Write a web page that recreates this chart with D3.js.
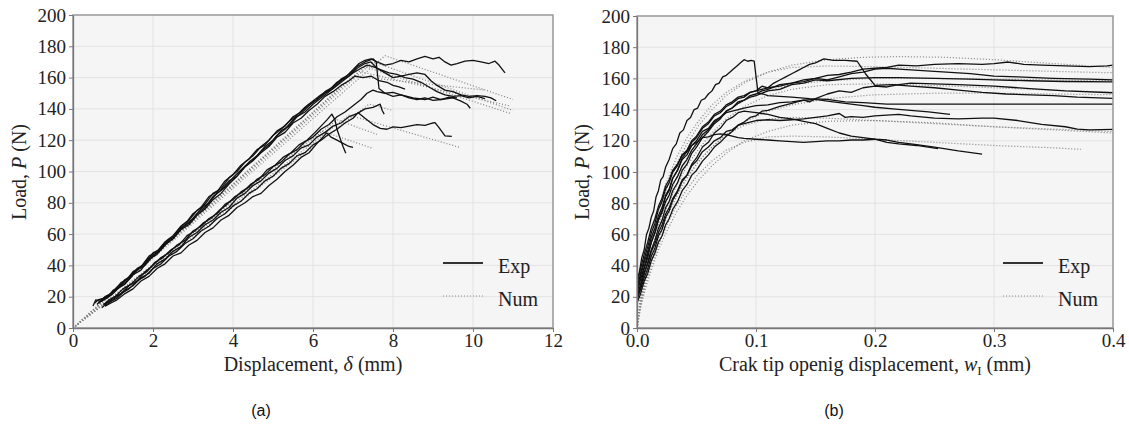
<!DOCTYPE html>
<html><head><meta charset="utf-8">
<script src="https://cdn.jsdelivr.net/npm/d3@7/dist/d3.min.js"></script>
<style>
body{margin:0;background:#fff;}
svg{display:block;}
.tick text{font-family:"Liberation Serif",serif;font-size:19px;fill:#222;}
</style></head>
<body><svg id="chart" width="1129" height="427"></svg>
<script>
// ---------- tick values ----------
const yTicks = [0,20,40,60,80,100,120,140,160,180,200];
const xTicksA = [0,2,4,6,8,10,12];
const xTicksB = [0,0.1,0.2,0.3,0.4];
const legendLabels = ["Exp","Num"];

// ---------- panel (a): experimental load-displacement ----------
const expA1 = [[0.55,16],[0.62,18],[0.75,19],[0.9,21],[1.0,24],[1.15,26],[1.3,31],[1.45,33],[1.6,38],[1.8,41],[2.0,48],[2.15,50],[2.35,56],[2.5,59],[2.7,65],[2.85,68],[3.0,73],[3.2,77],[3.4,84],[3.6,87],[3.8,94],[4.0,98],[4.2,104],[4.4,108],[4.6,114],[4.8,117],[5.0,123],[5.2,127],[5.4,132],[5.6,136],[5.8,141],[6.0,145],[6.2,149],[6.4,152],[6.6,157],[6.8,160],[7.0,165],[7.15,169],[7.3,171],[7.45,172],[7.6,170],[7.8,168],[8.0,169],[8.2,171],[8.4,170],[8.6,172],[8.8,173.5],[9.0,172],[9.15,173],[9.3,170],[9.45,168],[9.6,169],[9.8,170.5],[10.0,171],[10.2,170],[10.4,169],[10.55,170.5],[10.65,168],[10.8,163]];
const expA2 = [[0.6,15],[0.7,18],[0.85,20],[1.0,23],[1.2,29],[1.35,31],[1.5,36],[1.7,39],[1.9,46],[2.1,49],[2.3,55],[2.5,58],[2.7,65],[2.9,69],[3.1,75],[3.3,79],[3.5,86],[3.7,89],[3.9,96],[4.1,100],[4.3,106],[4.5,110],[4.7,116],[4.9,120],[5.1,126],[5.3,129],[5.5,135],[5.7,138],[5.9,143],[6.1,146],[6.3,151],[6.5,154],[6.7,159],[6.9,162],[7.1,167],[7.3,170],[7.5,172],[7.58,170],[7.65,153],[7.8,150],[8.0,148],[8.2,149],[8.5,147],[8.8,146],[9.0,147.5],[9.2,146],[9.5,147],[9.7,145],[9.85,143],[9.93,140.4]];
const expA3 = [[0.65,16],[0.8,19],[0.95,21],[1.1,25],[1.3,28],[1.5,34],[1.7,37],[1.9,44],[2.1,47],[2.3,53],[2.5,57],[2.7,63],[2.9,66],[3.1,72],[3.3,76],[3.5,82],[3.7,86],[3.9,92],[4.1,97],[4.3,103],[4.5,107],[4.7,113],[4.9,117],[5.1,123],[5.3,127],[5.5,133],[5.7,137],[5.9,142],[6.1,146],[6.3,150],[6.5,153],[6.7,158],[6.9,161],[7.1,166],[7.3,169],[7.45,170],[7.6,166],[7.8,163],[8.0,160],[8.2,161],[8.4,162],[8.6,163],[8.8,162],[8.95,158],[9.1,155],[9.3,152],[9.5,151],[9.7,149],[9.9,148],[10.1,148.5],[10.3,148],[10.45,147],[10.58,145.2]];
const expA4 = [[0.5,14],[0.57,18],[0.68,17],[0.8,20],[0.95,22],[1.1,26],[1.3,30],[1.5,35],[1.7,39],[1.9,45],[2.1,48],[2.3,54],[2.5,57],[2.7,64],[2.9,67],[3.1,73],[3.3,77],[3.5,84],[3.7,88],[3.9,94],[4.1,97],[4.3,103],[4.5,107],[4.7,112],[4.9,116],[5.1,122],[5.3,125],[5.5,131],[5.7,134],[5.9,139],[6.1,143],[6.3,148],[6.5,151],[6.7,155],[6.9,158],[7.05,161],[7.25,160],[7.45,161],[7.65,158],[7.85,157],[8.0,155],[8.15,154],[8.3,152.7]];
const expA5 = [[0.7,17],[0.85,19],[1.0,22],[1.2,27],[1.4,31],[1.6,37],[1.8,40],[2.0,46],[2.2,50],[2.4,56],[2.6,60],[2.8,66],[3.0,70],[3.2,76],[3.4,80],[3.6,86],[3.8,90],[4.0,96],[4.2,101],[4.4,106],[4.6,110],[4.8,116],[5.0,120],[5.2,126],[5.4,129],[5.6,135],[5.8,138],[6.0,143],[6.2,147],[6.4,151],[6.6,155],[6.8,159],[7.0,163],[7.2,166],[7.35,168],[7.5,167],[7.7,165],[7.9,163],[8.1,162],[8.3,160],[8.5,159],[8.7,157],[8.9,154],[9.1,151],[9.3,149],[9.5,148],[9.7,148.5],[9.9,147],[10.1,148],[10.3,146.5]];
const expA6 = [[0.75,15],[0.9,17],[1.05,20],[1.2,22],[1.4,27],[1.6,30],[1.8,36],[2.0,40],[2.2,45],[2.4,48],[2.6,53],[2.8,56],[3.0,62],[3.2,65],[3.4,70],[3.6,73],[3.8,79],[4.0,82],[4.2,87],[4.4,90],[4.6,95],[4.8,98],[5.0,103],[5.2,106],[5.4,111],[5.6,114],[5.8,119],[6.0,122],[6.2,127],[6.4,130],[6.6,135],[6.8,138],[7.0,142],[7.2,146],[7.35,150],[7.5,152],[7.6,151],[7.8,150],[8.0,150.5],[8.2,149],[8.4,147],[8.6,146],[8.8,147],[9.0,145.5],[9.2,146],[9.4,147.5],[9.6,147]];
const expA7 = [[0.8,14],[0.95,17],[1.1,19],[1.3,24],[1.5,27],[1.7,32],[1.9,35],[2.1,41],[2.3,44],[2.5,49],[2.7,52],[2.9,58],[3.1,61],[3.3,66],[3.5,69],[3.7,74],[3.9,77],[4.1,83],[4.3,86],[4.5,91],[4.7,94],[4.9,99],[5.1,102],[5.3,107],[5.5,110],[5.7,115],[5.9,117],[6.1,122],[6.3,125],[6.5,129],[6.7,131],[6.9,135],[7.1,137],[7.3,140],[7.5,141],[7.68,143],[7.73,139],[7.78,136.7]];
const expA8 = [[0.72,13],[0.85,16],[1.0,18],[1.2,22],[1.4,25],[1.6,30],[1.8,33],[2.0,38],[2.2,41],[2.4,46],[2.6,49],[2.8,54],[3.0,57],[3.2,62],[3.4,65],[3.6,70],[3.8,73],[4.0,78],[4.2,81],[4.4,86],[4.6,89],[4.8,94],[5.0,97],[5.2,102],[5.4,105],[5.6,110],[5.8,112],[6.0,117],[6.2,120],[6.4,124],[6.6,127],[6.8,131],[7.0,134],[7.13,137.6],[7.3,134],[7.5,130],[7.68,127.6],[7.85,127],[8.0,128.5],[8.2,128],[8.4,129],[8.6,130],[8.8,129.5],[9.0,131],[9.05,131.2],[9.15,128],[9.3,122.8],[9.47,122.4]];
const expA9 = [[0.78,15],[0.9,18],[1.05,20],[1.25,25],[1.45,28],[1.65,33],[1.85,36],[2.05,42],[2.25,45],[2.45,50],[2.65,53],[2.85,59],[3.05,62],[3.25,67],[3.45,70],[3.65,75],[3.85,79],[4.05,84],[4.25,87],[4.45,92],[4.65,95],[4.85,101],[5.05,104],[5.25,109],[5.45,112],[5.65,117],[5.85,120],[6.05,125],[6.2,129],[6.35,133],[6.47,136.7],[6.55,133],[6.6,127],[6.68,121],[6.75,116],[6.82,111.6]];
const expA10 = [[0.8,14],[0.95,16],[1.1,18],[1.3,22],[1.5,25],[1.7,30],[1.9,33],[2.1,38],[2.3,41],[2.5,46],[2.7,48],[2.9,53],[3.1,56],[3.3,61],[3.5,64],[3.7,69],[3.9,72],[4.1,77],[4.3,80],[4.5,84],[4.7,86],[4.9,91],[5.1,95],[5.3,100],[5.5,104],[5.7,109],[5.9,112],[6.1,118],[6.25,122],[6.34,124.7],[6.45,122],[6.6,120],[6.75,118],[6.9,116],[7.0,115.4]];

// ---------- panel (a): numerical ----------
const numA1 = [[0,0],[7.8,174],[11.0,146]];
const numA2 = [[0,0],[7.5,170],[11.0,139]];
const numA3 = [[0,0],[7.3,167],[10.95,137]];
const numA4 = [[0,0],[7.15,164],[10.9,142]];
const numA5 = [[0,0],[7.0,161],[10.3,152]];
const numA6 = [[0,0],[7.4,143],[8.0,139]];
const numA7 = [[0,0],[6.9,136],[9.67,115.4]];
const numA8 = [[0,0],[6.2,126],[7.47,115]];
const numA9 = [[0,0],[6.6,133],[7.6,123.7]];

// ---------- panel (b): experimental load-CTOD ----------
const expB1 = [[0,30],[0.002,36],[0.004,45],[0.006,50],[0.008,60],[0.01,64],[0.012,71],[0.014,75],[0.016,84],[0.018,88],[0.02,95],[0.022,97],[0.024,103],[0.027,108],[0.03,115],[0.033,118],[0.036,125],[0.039,127],[0.042,133],[0.045,135],[0.048,140],[0.051,141],[0.054,146],[0.057,147],[0.06,150],[0.063,152],[0.066,156],[0.069,157],[0.072,161],[0.075,162],[0.078,164],[0.081,166],[0.084,168],[0.087,170],[0.09,172],[0.093,171],[0.096,171.5],[0.0985,171],[0.1017,150.6],[0.106,150],[0.11,149],[0.12,148.5],[0.13,148],[0.145,147],[0.16,146.5],[0.175,145],[0.19,144.5],[0.21,143.5],[0.25,143.5],[0.3,143.5],[0.35,143.5],[0.4,143.5]];
const expB2 = [[0,20],[0.003,28],[0.006,38],[0.009,45],[0.012,55],[0.015,61],[0.018,70],[0.021,75],[0.024,84],[0.027,88],[0.03,96],[0.034,101],[0.038,109],[0.042,113],[0.046,119],[0.05,122],[0.055,128],[0.06,131],[0.065,136],[0.07,138],[0.075,142],[0.08,144],[0.085,147],[0.09,148],[0.095,151],[0.1,152],[0.105,155],[0.11,154],[0.115,157],[0.12,159],[0.125,161],[0.13,163],[0.135,165],[0.14,167],[0.145,169],[0.15,170],[0.157,172.5],[0.165,171.5],[0.175,171.5],[0.185,171],[0.192,163],[0.2,155.5],[0.215,156],[0.23,155],[0.25,154],[0.27,152.5],[0.29,151],[0.31,150],[0.33,149.5],[0.35,149],[0.37,148],[0.4,147.2]];
const expB3 = [[0,18],[0.003,26],[0.006,35],[0.009,42],[0.012,50],[0.015,56],[0.018,64],[0.021,69],[0.024,77],[0.027,81],[0.03,88],[0.034,93],[0.038,101],[0.042,105],[0.046,112],[0.05,116],[0.055,122],[0.06,126],[0.065,131],[0.07,134],[0.075,139],[0.08,141],[0.085,145],[0.09,146],[0.095,149],[0.1,150],[0.105,152],[0.11,153],[0.12,156],[0.13,157],[0.14,159],[0.15,160],[0.16,162],[0.17,162.5],[0.18,164],[0.19,166],[0.2,166.5],[0.21,167],[0.22,168.5],[0.235,168],[0.25,169],[0.27,169.5],[0.29,169],[0.3,169.5],[0.312,170.5],[0.325,169],[0.34,168.5],[0.36,168],[0.38,167.5],[0.395,168],[0.4,168.5]];
const expB4 = [[0,25],[0.003,35],[0.006,44],[0.009,52],[0.012,61],[0.015,67],[0.018,76],[0.021,81],[0.024,89],[0.027,93],[0.03,100],[0.034,104],[0.038,111],[0.042,114],[0.046,120],[0.05,123],[0.055,129],[0.06,132],[0.065,137],[0.07,139],[0.075,143],[0.08,145],[0.085,148],[0.09,149],[0.095,151],[0.1,152],[0.11,154],[0.12,155],[0.13,157],[0.14,158],[0.15,160],[0.16,159],[0.17,161],[0.18,163],[0.19,164],[0.2,166],[0.21,166.5],[0.22,166],[0.24,165],[0.26,164],[0.28,163],[0.3,161.5],[0.32,161],[0.35,160],[0.38,159.5],[0.4,159]];
const expB5 = [[0,22],[0.003,31],[0.006,39],[0.009,47],[0.012,55],[0.015,61],[0.018,69],[0.021,74],[0.024,81],[0.027,85],[0.03,92],[0.034,97],[0.038,104],[0.042,108],[0.046,114],[0.05,118],[0.055,124],[0.06,127],[0.065,132],[0.07,135],[0.075,139],[0.08,141],[0.085,144],[0.09,146],[0.095,148],[0.1,149],[0.11,152],[0.12,153],[0.13,156],[0.14,157],[0.15,159],[0.16,158.5],[0.18,160],[0.2,160.5],[0.22,160.5],[0.25,160],[0.28,159.5],[0.3,159],[0.33,158.5],[0.36,158],[0.4,157.8]];
const expB6 = [[0,16],[0.003,22],[0.006,30],[0.009,35],[0.012,43],[0.015,48],[0.018,55],[0.021,59],[0.024,66],[0.027,70],[0.03,76],[0.034,81],[0.038,88],[0.042,92],[0.046,98],[0.05,101],[0.055,107],[0.06,111],[0.065,116],[0.07,119],[0.075,123],[0.08,126],[0.085,130],[0.09,132],[0.095,135],[0.1,136],[0.105,139],[0.11,139.5],[0.12,142],[0.13,144],[0.14,146],[0.145,145],[0.15,147],[0.16,150],[0.17,152],[0.18,151],[0.19,154],[0.2,155],[0.21,154.5],[0.22,156],[0.23,157],[0.25,156.5],[0.27,156],[0.3,155],[0.33,153.5],[0.36,152],[0.4,150.8]];
const expB7 = [[0,20],[0.003,27],[0.006,35],[0.009,41],[0.012,49],[0.015,54],[0.018,61],[0.021,66],[0.024,73],[0.027,77],[0.03,83],[0.034,88],[0.038,95],[0.042,98],[0.046,104],[0.05,107],[0.055,113],[0.06,116],[0.065,120],[0.07,122],[0.075,126],[0.08,127],[0.085,130],[0.09,131],[0.1,133],[0.11,133.5],[0.12,133],[0.13,133.5],[0.14,134],[0.15,135],[0.16,136],[0.17,137.5],[0.175,135],[0.18,135.5],[0.19,135],[0.2,136],[0.22,137],[0.23,136],[0.25,134.5],[0.27,134],[0.29,134.5],[0.3,134.5],[0.32,133],[0.34,130.5],[0.36,129],[0.37,127.5],[0.38,127],[0.4,127.3]];
const expB8 = [[0,24],[0.003,33],[0.006,42],[0.009,49],[0.012,58],[0.015,64],[0.018,72],[0.021,77],[0.024,85],[0.027,89],[0.03,96],[0.034,101],[0.038,108],[0.042,111],[0.046,117],[0.05,120],[0.055,126],[0.06,128],[0.065,133],[0.07,135],[0.075,138],[0.08,139],[0.09,141],[0.1,142.5],[0.11,143],[0.12,144.5],[0.13,145],[0.14,146],[0.15,146.5],[0.16,145.5],[0.17,144.5],[0.18,143.5],[0.19,142.5],[0.2,141.5],[0.215,140.5],[0.23,139.5],[0.245,138.5],[0.263,137]];
const expB9 = [[0,28],[0.003,38],[0.006,47],[0.009,55],[0.012,64],[0.015,70],[0.018,78],[0.021,83],[0.024,91],[0.027,95],[0.03,101],[0.034,105],[0.038,111],[0.042,113],[0.046,117],[0.05,119],[0.055,122],[0.06,122.5],[0.065,124],[0.07,124.5],[0.075,124],[0.08,123],[0.085,122],[0.09,121.5],[0.1,121],[0.11,120.5],[0.12,120],[0.13,119.5],[0.14,119],[0.15,119.5],[0.16,120],[0.17,120],[0.18,120.5],[0.19,120.5],[0.2,121],[0.21,119],[0.22,118],[0.235,117],[0.253,115]];
const expB10 = [[0,18],[0.003,25],[0.006,32],[0.009,38],[0.012,46],[0.015,51],[0.018,59],[0.021,63],[0.024,71],[0.027,75],[0.03,82],[0.034,87],[0.038,94],[0.042,98],[0.046,105],[0.05,109],[0.055,116],[0.06,119],[0.065,125],[0.07,128],[0.075,133],[0.08,135],[0.085,138],[0.09,139],[0.095,138.5],[0.1,138],[0.11,137],[0.12,135],[0.13,134],[0.14,132.5],[0.15,131],[0.16,128],[0.17,125],[0.18,123],[0.19,122],[0.2,121],[0.21,120.5],[0.22,119],[0.235,117.5],[0.25,116],[0.27,113.5],[0.29,111.5]];

// ---------- panel (b): numerical ----------
const numB1 = [[0,0],[0.003,20],[0.007,38],[0.012,55],[0.018,72],[0.025,89],[0.033,105],[0.042,118],[0.052,130],[0.063,140],[0.075,149],[0.09,157],[0.11,164],[0.13,168.5],[0.16,172],[0.19,173.5],[0.22,174],[0.26,173.5],[0.3,172],[0.34,170],[0.37,168.5],[0.4,167]];
const numB2 = [[0,0],[0.003,22],[0.007,41],[0.012,59],[0.018,77],[0.025,94],[0.033,109],[0.042,122],[0.052,133],[0.063,143],[0.075,151],[0.09,158],[0.11,164],[0.13,167],[0.16,168],[0.2,167.5],[0.25,166.5],[0.3,165.5],[0.35,164.5],[0.4,163.6]];
const numB3 = [[0,0],[0.003,18],[0.007,34],[0.012,50],[0.018,66],[0.025,82],[0.033,96],[0.042,109],[0.052,120],[0.063,130],[0.075,139],[0.09,146],[0.11,152],[0.13,156],[0.16,158.5],[0.2,160],[0.25,160],[0.3,159.5],[0.35,159],[0.4,158.5]];
const numB4 = [[0,0],[0.003,15],[0.007,29],[0.012,43],[0.018,57],[0.025,71],[0.033,84],[0.042,96],[0.052,107],[0.063,116],[0.075,124],[0.09,132],[0.11,139],[0.13,143],[0.16,147],[0.2,149.5],[0.25,150.5],[0.3,150.5],[0.35,150],[0.4,149.5]];
const numB5 = [[0,0],[0.003,17],[0.007,32],[0.012,47],[0.018,62],[0.025,77],[0.033,91],[0.042,104],[0.052,115],[0.063,125],[0.075,134],[0.09,142],[0.11,149],[0.13,153],[0.16,156],[0.2,156.5],[0.25,155.5],[0.3,154],[0.35,152.5],[0.4,151]];
const numB6 = [[0,0],[0.003,16],[0.007,30],[0.012,44],[0.018,58],[0.025,72],[0.033,85],[0.042,97],[0.052,107],[0.063,116],[0.075,124],[0.09,130],[0.11,134],[0.13,135],[0.16,134.5],[0.2,133],[0.25,131],[0.3,129],[0.35,127.5],[0.4,126]];
const numB7 = [[0,0],[0.003,13],[0.007,25],[0.012,37],[0.018,50],[0.025,62],[0.033,74],[0.042,85],[0.052,95],[0.063,104],[0.075,112],[0.09,120],[0.11,126],[0.13,130],[0.16,132.5],[0.2,133],[0.25,131.5],[0.3,129],[0.35,127],[0.4,125]];
const numB8 = [[0,0],[0.003,14],[0.007,27],[0.012,40],[0.018,53],[0.025,66],[0.033,78],[0.042,89],[0.052,99],[0.063,107],[0.075,114],[0.09,119],[0.11,122.5],[0.13,123],[0.16,122.5],[0.2,121],[0.25,119],[0.3,117],[0.35,115.5],[0.373,114.5]];

const expA = [expA1,expA2,expA3,expA4,expA5,expA6,expA7,expA8,expA9,expA10];
const numA = [numA1,numA2,numA3,numA4,numA5,numA6,numA7,numA8,numA9];
const expB = [expB1,expB2,expB3,expB4,expB5,expB6,expB7,expB8,expB9,expB10];
const numB = [numB1,numB2,numB3,numB4,numB5,numB6,numB7,numB8];

const svg = d3.select("#chart");
svg.append("rect").attr("width",1129).attr("height",427).attr("fill","#fff");

const SERIF = '"Liberation Serif", "DejaVu Serif", serif';

function panel(cfg){
  const {id, x0, x1, y0, y1, xDomain, xTicks, xFmt, exp, num, xLabel, caption, captionX, yLabelX} = cfg;
  const x = d3.scaleLinear().domain(xDomain).range([x0,x1]);
  const y = d3.scaleLinear().domain([0,200]).range([y1,y0]);
  const g = svg.append("g");
  g.append("rect").attr("x",x0).attr("y",y0).attr("width",x1-x0).attr("height",y1-y0).attr("fill","#f5f5f5");
  // grid
  g.append("g").selectAll("line").data(xTicks).join("line")
    .attr("x1",d=>x(d)).attr("x2",d=>x(d)).attr("y1",y0).attr("y2",y1)
    .attr("stroke","#e3e3e3").attr("stroke-width",1);
  g.append("g").selectAll("line").data(yTicks).join("line")
    .attr("x1",x0).attr("x2",x1).attr("y1",d=>y(d)).attr("y2",d=>y(d))
    .attr("stroke","#e3e3e3").attr("stroke-width",1);
  // clip
  svg.append("clipPath").attr("id","clip"+id).append("rect")
    .attr("x",x0).attr("y",y0).attr("width",x1-x0).attr("height",y1-y0);
  const line = d3.line().x(d=>x(d[0])).y(d=>y(d[1]));
  const plot = g.append("g").attr("clip-path",`url(#clip${id})`);
  plot.selectAll("path.num").data(num).join("path").attr("class","num")
    .attr("d",line).attr("fill","none").attr("stroke","#858585")
    .attr("stroke-width",1.25).attr("stroke-dasharray","1,2");
  plot.selectAll("path.exp").data(exp).join("path").attr("class","exp")
    .attr("d",line).attr("fill","none").attr("stroke","#111")
    .attr("stroke-width",1.3).attr("stroke-linejoin","round");
  // frame
  g.append("rect").attr("x",x0).attr("y",y0).attr("width",x1-x0).attr("height",y1-y0)
    .attr("fill","none").attr("stroke","#9a9a9a").attr("stroke-width",1.5);
  // axes
  const ya = g.append("g").attr("transform",`translate(${x0},0)`)
    .call(d3.axisLeft(y).tickValues(yTicks).tickSize(4).tickSizeOuter(0).tickPadding(3));
  const xa = g.append("g").attr("transform",`translate(0,${y1})`)
    .call(d3.axisBottom(x).tickValues(xTicks).tickFormat(xFmt).tickSize(4).tickSizeOuter(0).tickPadding(2));
  [ya,xa].forEach(a=>{
    a.select(".domain").attr("stroke","#777").attr("stroke-width",1.3);
    a.selectAll(".tick line").attr("stroke","#777");
  });
  // y label
  const yl = g.append("text").attr("transform",`translate(${yLabelX},172) rotate(-90)`)
    .attr("text-anchor","middle").attr("font-family",SERIF).attr("font-size",20).attr("fill","#222");
  yl.append("tspan").text("Load, ");
  yl.append("tspan").attr("font-style","italic").text("P");
  yl.append("tspan").text(" (N)");
  // x label
  const xl = g.append("text").attr("x",(x0+x1)/2).attr("y",371)
    .attr("text-anchor","middle").attr("font-family",SERIF).attr("font-size",20).attr("fill","#222");
  xLabel(xl);
  // caption
  g.append("text").attr("x",captionX).attr("y",416).attr("text-anchor","middle")
    .attr("font-family",'"Liberation Sans", Arial, sans-serif').attr("font-size",16).attr("fill","#111").text(caption);
  // legend
  const lx = x1 - 110, lg = g.append("g");
  const rows = [{y:263, dash:null, w:1.8, c:"#333"},{y:296, dash:"1,2", w:1.2, c:"#8a8a8a"}];
  rows.forEach((r,i)=>{
    lg.append("line").attr("x1",lx).attr("x2",lx+40).attr("y1",r.y).attr("y2",r.y)
      .attr("stroke",r.c).attr("stroke-width",r.w).attr("stroke-dasharray",r.dash);
    lg.append("text").attr("x",lx+55).attr("y",r.y+9.5).attr("font-family",SERIF)
      .attr("font-size",20).attr("fill","#222").text(legendLabels[i]);
  });
}

panel({id:"a", x0:73, x1:553, y0:15, y1:328, xDomain:[0,12], xTicks:xTicksA, xFmt:d3.format("d"),
  exp:expA, num:numA, caption:"(a)", captionX:261, yLabelX:26,
  xLabel:t=>{t.append("tspan").text("Displacement, ");t.append("tspan").attr("font-style","italic").text("δ");t.append("tspan").text(" (mm)");}});
panel({id:"b", x0:637, x1:1113, y0:16, y1:328, xDomain:[0,0.4], xTicks:xTicksB, xFmt:d3.format(".1f"),
  exp:expB, num:numB, caption:"(b)", captionX:834, yLabelX:589,
  xLabel:t=>{t.append("tspan").text("Crak tip openig displacement, ");t.append("tspan").attr("font-style","italic").text("w");t.append("tspan").attr("font-size",13).attr("dy",4).text("I");t.append("tspan").attr("dy",-4).text(" (mm)");}});
</script></body></html>
